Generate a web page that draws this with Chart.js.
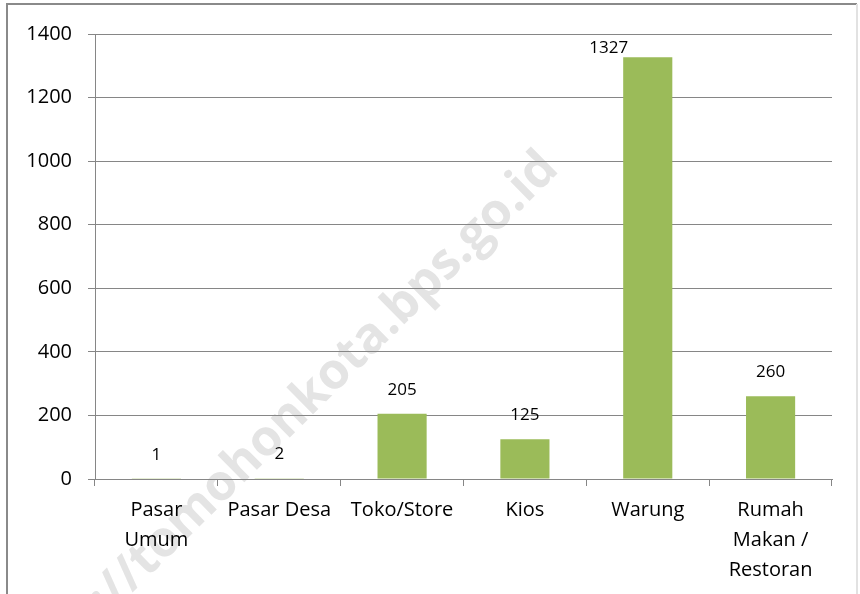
<!DOCTYPE html>
<html>
<head>
<meta charset="utf-8">
<script src="https://cdn.jsdelivr.net/npm/chart.js@4/dist/chart.umd.min.js"></script>
<style>
  body { margin: 0; background: #fff; }
</style>
</head>
<body>
<canvas id="grafikUsaha" width="860" height="594"></canvas>
<script>
// kategori tempat usaha dan jumlahnya
const kategori = [['Pasar', 'Umum'], 'Pasar Desa', 'Toko/Store', 'Kios', 'Warung', ['Rumah', 'Makan /', 'Restoran']];
const jumlah = [1, 2, 205, 125, 1327, 260];
const batasY = [0, 1400];
const langkahY = 200;

const warnaBatang = '#9bbb59';
const warnaGaris = '#868686';
const fontUtama = 'Open Sans';

// latar, watermark, bingkai
const latarPlugin = {
  id: 'latar',
  beforeDraw(chart) {
    const ctx = chart.ctx;
    ctx.save();
    ctx.fillStyle = '#fff';
    ctx.fillRect(0, 0, chart.width, chart.height);

    // watermark samar, huruf "t" dari tomohon dipatok di kiri bawah
    ctx.translate(137, 568);
    ctx.rotate(-44.6 * Math.PI / 180);
    ctx.font = 'bold 50px "Open Sans"';
    ctx.fillStyle = '#e4e4e4';
    ctx.textAlign = 'left';
    ctx.textBaseline = 'middle';
    const awal = ctx.measureText('http://').width;
    ctx.fillText('http://tomohonkota.bps.go.id', -awal, 0);
    ctx.restore();

    // bingkai luar
    ctx.save();
    ctx.lineWidth = 2;
    ctx.strokeStyle = '#8a8a8a';
    ctx.beginPath();
    ctx.moveTo(7, chart.height);
    ctx.lineTo(7, 4);
    ctx.lineTo(857, 4);
    ctx.stroke();
    ctx.strokeStyle = '#e2e2e2';
    ctx.beginPath();
    ctx.moveTo(857, 4);
    ctx.lineTo(857, chart.height);
    ctx.stroke();
    ctx.restore();
  }
};

// label nilai di atas batang
const labelPlugin = {
  id: 'labelNilai',
  afterDatasetsDraw(chart) {
    const ctx = chart.ctx;
    const meta = chart.getDatasetMeta(0);
    ctx.save();
    ctx.font = '17px "Open Sans"';
    ctx.fillStyle = '#000';
    ctx.textAlign = 'center';
    ctx.textBaseline = 'middle';
    meta.data.forEach((bar, i) => {
      const teks = String(jumlah[i]);
      let x = bar.x;
      let y = bar.y - 24;
      if (y - 10 < chart.chartArea.top) {
        // terlalu tinggi, geser ke kiri batang
        const w = ctx.measureText(teks).width;
        x = bar.x - bar.width / 2 - w / 2 + 5;
        y = bar.y - 9;
      }
      ctx.fillText(teks, x, y);
    });
    ctx.restore();
  }
};

new Chart(document.getElementById('grafikUsaha'), {
  type: 'bar',
  data: {
    labels: kategori,
    datasets: [{
      data: jumlah,
      backgroundColor: warnaBatang,
      barPercentage: 0.4,
      categoryPercentage: 1.0
    }]
  },
  options: {
    responsive: false,
    animation: false,
    layout: {
      padding: { left: 0, top: 34, right: 28, bottom: 0 }
    },
    plugins: {
      legend: { display: false },
      tooltip: { enabled: false }
    },
    scales: {
      x: {
        grid: {
          drawOnChartArea: false,
          drawTicks: true,
          tickLength: 7,
          color: warnaGaris,
          offset: true
        },
        border: { color: warnaGaris, width: 1 },
        ticks: {
          color: '#000',
          maxRotation: 0,
          autoSkip: false,
          padding: 9,
          font: { family: fontUtama, size: 20, lineHeight: 1.5 }
        },
        afterFit(scale) { scale.height = 115; }
      },
      y: {
        min: batasY[0],
        max: batasY[1],
        grid: {
          color: warnaGaris,
          tickLength: 7
        },
        border: { color: warnaGaris, width: 1 },
        ticks: {
          stepSize: langkahY,
          color: '#000',
          padding: 16,
          font: { family: fontUtama, size: 20 },
          callback: (v) => String(v)
        },
        afterFit(scale) { scale.width = 95; }
      }
    }
  },
  plugins: [latarPlugin, labelPlugin]
});
</script>
</body>
</html>
